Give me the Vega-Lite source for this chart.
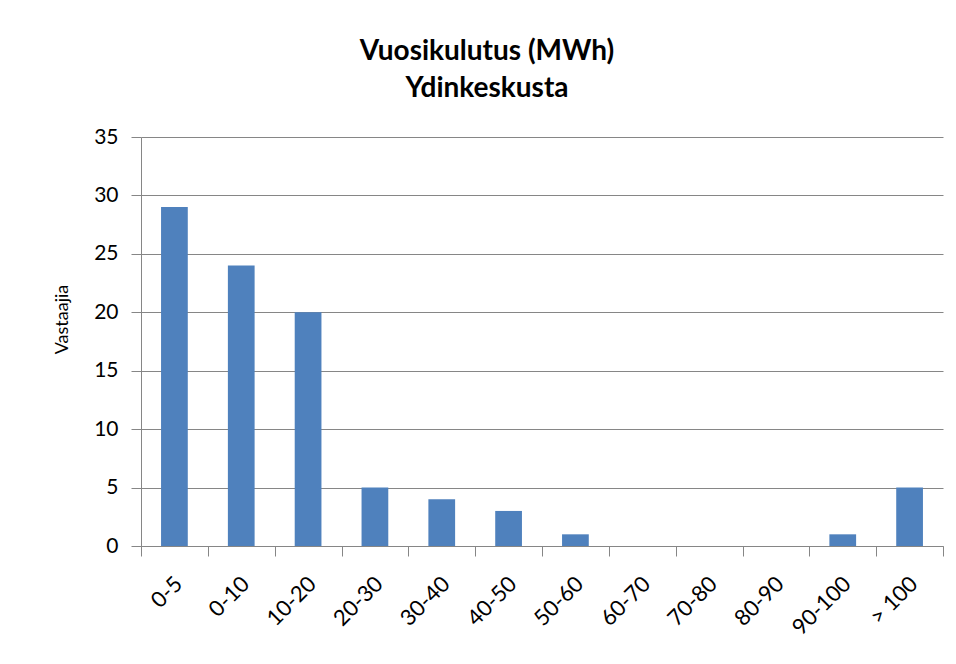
{
  "$schema": "https://vega.github.io/schema/vega-lite/v6.json",
  "width": 802,
  "height": 409,
  "autosize": {"type": "none"},
  "padding": {"left": 141, "top": 137, "right": 13, "bottom": 118},
  "background": "white",
  "title": {
    "text": ["Vuosikulutus (MWh)", "Ydinkeskusta"],
    "font": "Lato",
    "fontSize": 28,
    "fontWeight": "bold",
    "color": "#000000",
    "lineHeight": 37,
    "anchor": "middle",
    "dx": -55,
    "offset": 23
  },
  "data": {
    "values": [
      {"luokka": "0-5", "vastaajia": 29},
      {"luokka": "0-10", "vastaajia": 24},
      {"luokka": "10-20", "vastaajia": 20},
      {"luokka": "20-30", "vastaajia": 5},
      {"luokka": "30-40", "vastaajia": 4},
      {"luokka": "40-50", "vastaajia": 3},
      {"luokka": "50-60", "vastaajia": 1},
      {"luokka": "60-70", "vastaajia": 0},
      {"luokka": "70-80", "vastaajia": 0},
      {"luokka": "80-90", "vastaajia": 0},
      {"luokka": "90-100", "vastaajia": 1},
      {"luokka": "> 100", "vastaajia": 5}
    ]
  },
  "mark": {"type": "bar", "color": "#4F81BD", "width": {"band": 0.4}},
  "encoding": {
    "x": {
      "field": "luokka",
      "type": "nominal",
      "sort": null,
      "scale": {"paddingInner": 0, "paddingOuter": 0},
      "axis": {
        "title": null,
        "labelAngle": -45,
        "labelAlign": "right",
        "labelBaseline": "middle",
        "labelFont": "Lato",
        "labelFontSize": 22,
        "labelColor": "#000000",
        "labelPadding": 24,
        "labelOffset": 4,
        "tickBand": "extent",
        "tickSize": 10,
        "tickColor": "#868686",
        "domainColor": "#868686",
        "grid": false
      }
    },
    "y": {
      "field": "vastaajia",
      "type": "quantitative",
      "scale": {"domain": [0, 35], "nice": false},
      "axis": {
        "title": "Vastaajia",
        "titleFont": "Lato",
        "titleFontSize": 18,
        "titleFontWeight": "normal",
        "titleColor": "#000000",
        "titlePadding": 22,
        "titleY": 182,
        "values": [0, 5, 10, 15, 20, 25, 30, 35],
        "labelFont": "Lato",
        "labelFontSize": 21,
        "labelColor": "#000000",
        "labelPadding": 13,
        "tickSize": 10,
        "tickColor": "#868686",
        "domainColor": "#868686",
        "gridColor": "#868686",
        "grid": true
      }
    }
  },
  "config": {
    "view": {"stroke": null},
    "axis": {"domainWidth": 1, "tickWidth": 1, "gridWidth": 1}
  }
}
